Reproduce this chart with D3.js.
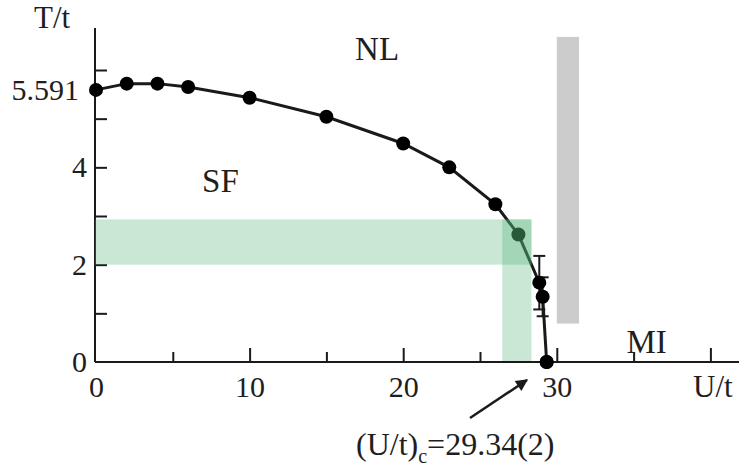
<!DOCTYPE html>
<html>
<head>
<meta charset="utf-8">
<script src="https://cdn.jsdelivr.net/npm/d3@7"></script>
<style>
  html, body { margin: 0; padding: 0; background: #fff; }
</style>
</head>
<body>
<svg id="chart" width="739" height="469"></svg>
<script>
// ---- data ----
const uValues = [0, 2, 4, 6, 10, 15, 20, 23, 26, 27.5, 28.86, 29.08, 29.34];
const tValues = [5.591, 5.72, 5.72, 5.65, 5.43, 5.04, 4.49, 4.0, 3.24, 2.62, 1.63, 1.34, 0];
const tErrors = [0, 0, 0, 0, 0, 0, 0, 0, 0, 0, 0.55, 0.4, 0];
const xTickLabels = [0, 10, 20, 30];
const yTickLabels = [0, 2, 4, 5.591];
const bandH = { u0: 0, u1: 28.35, t0: 2.0, t1: 2.93 };
const bandV = { u0: 26.45, u1: 28.35, t0: 0, t1: 2.93 };
const grayBar = { u0: 30.0, u1: 31.45, t0: 0.79, t1: 6.68 };
const regionLabels = [
  { text: "NL", u: 18.3, t: 6.2 },
  { text: "SF", u: 8.1, t: 3.5 },
  { text: "MI", u: 35.85, t: 0.18 }
];
const criticalU = 29.34;

// ---- scales ----
const FONT = "'Liberation Serif', 'Times New Roman', Times, 'DejaVu Serif', serif";
const svg = d3.select("#chart");
const x = d3.scaleLinear().domain([0, 40]).range([96, 710.4]);
const y = d3.scaleLinear().domain([0, 6]).range([362, 70]);
const ink = "#1a1a1a";

// gray bar
svg.append("rect")
  .attr("x", x(grayBar.u0)).attr("y", y(grayBar.t1))
  .attr("width", x(grayBar.u1) - x(grayBar.u0))
  .attr("height", y(grayBar.t0) - y(grayBar.t1))
  .attr("fill", "#cccccc");

// axes lines
svg.append("line").attr("x1", 95).attr("x2", 739).attr("y1", y(0)).attr("y2", y(0))
  .attr("stroke", ink).attr("stroke-width", 2);
svg.append("line").attr("x1", 95).attr("x2", 95).attr("y1", 28).attr("y2", y(0))
  .attr("stroke", ink).attr("stroke-width", 2);

// x ticks (major & minor, pointing up)
const xMajor = svg.append("g").attr("transform", `translate(0,${y(0)})`)
  .call(d3.axisTop(x).tickValues([10, 20, 30, 40]).tickSize(14).tickFormat(""));
const xMinor = svg.append("g").attr("transform", `translate(0,${y(0)})`)
  .call(d3.axisTop(x).tickValues([5, 15, 25, 35]).tickSize(10).tickFormat(""));
[xMajor, xMinor].forEach(g => {
  g.select(".domain").remove();
  g.selectAll("line").attr("stroke", ink).attr("stroke-width", 2);
});

// y ticks pointing right
const yT = svg.append("g").attr("transform", `translate(95,0)`)
  .call(d3.axisRight(y).tickValues([1, 2, 3, 4, 5, 6]).tickSize(12).tickFormat(""));
yT.select(".domain").remove();
yT.selectAll("line").attr("stroke", ink).attr("stroke-width", 2);

// x labels
const xL = svg.append("g").attr("transform", `translate(0,${y(0)})`)
  .call(d3.axisBottom(x).tickValues(xTickLabels).tickSize(0).tickPadding(14).tickFormat(d3.format("d")));
xL.select(".domain").remove();
xL.selectAll("text").style("font-family", FONT).style("font-size", "30px").style("fill", "#1e1e1e");

// y labels
const yL = svg.append("g").attr("transform", `translate(95,0)`)
  .call(d3.axisLeft(y).tickValues(yTickLabels).tickSize(0).tickPadding(8)
    .tickFormat(d => d === 5.591 ? "5.591" : d3.format("d")(d)));
yL.select(".domain").remove();
yL.selectAll("text").style("font-family", FONT).style("font-size", "30px").style("fill", "#1e1e1e")
  .attr("dx", d => d === 5.591 ? -8 : 0);

// axis titles
svg.append("text").attr("x", 34).attr("y", 28).style("font-family", FONT).style("font-size", "31px").style("fill", "#1e1e1e").text("T/t");
svg.append("text").attr("x", 693).attr("y", 397).style("font-family", FONT).style("font-size", "31px").style("fill", "#1e1e1e").text("U/t");

// data line
const pts = uValues.map((u, i) => ({ u, t: tValues[i], e: tErrors[i] }));
svg.append("path").datum(pts)
  .attr("d", d3.line().x(d => x(d.u)).y(d => y(d.t)))
  .attr("fill", "none").attr("stroke", ink).attr("stroke-width", 3);

// error bars
const eb = svg.append("g").selectAll("g").data(pts.filter(d => d.e > 0)).join("g");
eb.append("line").attr("x1", d => x(d.u)).attr("x2", d => x(d.u))
  .attr("y1", d => y(d.t + d.e)).attr("y2", d => y(d.t - d.e))
  .attr("stroke", ink).attr("stroke-width", 2);
eb.append("line").attr("x1", d => x(d.u) - 6).attr("x2", d => x(d.u) + 6)
  .attr("y1", d => y(d.t + d.e)).attr("y2", d => y(d.t + d.e))
  .attr("stroke", ink).attr("stroke-width", 2);
eb.append("line").attr("x1", d => x(d.u) - 6).attr("x2", d => x(d.u) + 6)
  .attr("y1", d => y(d.t - d.e)).attr("y2", d => y(d.t - d.e))
  .attr("stroke", ink).attr("stroke-width", 2);

// points
svg.append("g").selectAll("circle").data(pts).join("circle")
  .attr("cx", d => x(d.u)).attr("cy", d => y(d.t)).attr("r", 7)
  .attr("fill", "#000");

// green bands (drawn over the curve)
[bandH, bandV].forEach(b => {
  const x0 = b === bandH ? 95 : x(b.u0);
  svg.append("rect")
    .attr("x", x0).attr("y", y(b.t1))
    .attr("width", x(b.u1) - x0)
    .attr("height", y(b.t0) - y(b.t1))
    .attr("fill", "#4caf72").attr("fill-opacity", 0.3);
});

// redraw x-axis line over band
svg.append("line").attr("x1", 95).attr("x2", 739).attr("y1", y(0)).attr("y2", y(0))
  .attr("stroke", ink).attr("stroke-width", 2);
svg.append("circle").attr("cx", x(criticalU)).attr("cy", y(0)).attr("r", 7).attr("fill", "#000");

// region labels
svg.append("g").selectAll("text").data(regionLabels).join("text")
  .attr("x", d => x(d.u)).attr("y", d => y(d.t))
  .style("font-family", FONT).style("font-size", "33px").style("fill", "#1e1e1e")
  .attr("text-anchor", "middle").text(d => d.text);

// annotation arrow
svg.append("defs").append("marker").attr("id", "ah")
  .attr("viewBox", "0 0 10 10").attr("refX", 9).attr("refY", 5)
  .attr("markerWidth", 16).attr("markerHeight", 12).attr("orient", "auto")
  .attr("markerUnits", "userSpaceOnUse")
  .append("path").attr("d", "M0,0 L10,5 L0,10 z").attr("fill", ink);
svg.append("line").attr("x1", 470).attr("y1", 418).attr("x2", 527).attr("y2", 380)
  .attr("stroke", ink).attr("stroke-width", 2.5).attr("marker-end", "url(#ah)");

const ann = svg.append("text").attr("x", 356).attr("y", 455)
  .style("font-family", FONT).style("font-size", "32px").style("fill", "#1e1e1e");
ann.append("tspan").text("(U/t)");
ann.append("tspan").style("font-size", "20px").attr("dy", 8).text("c");
ann.append("tspan").attr("dy", -8).text("=" + criticalU.toFixed(2) + "(2)");
</script>
</body>
</html>
